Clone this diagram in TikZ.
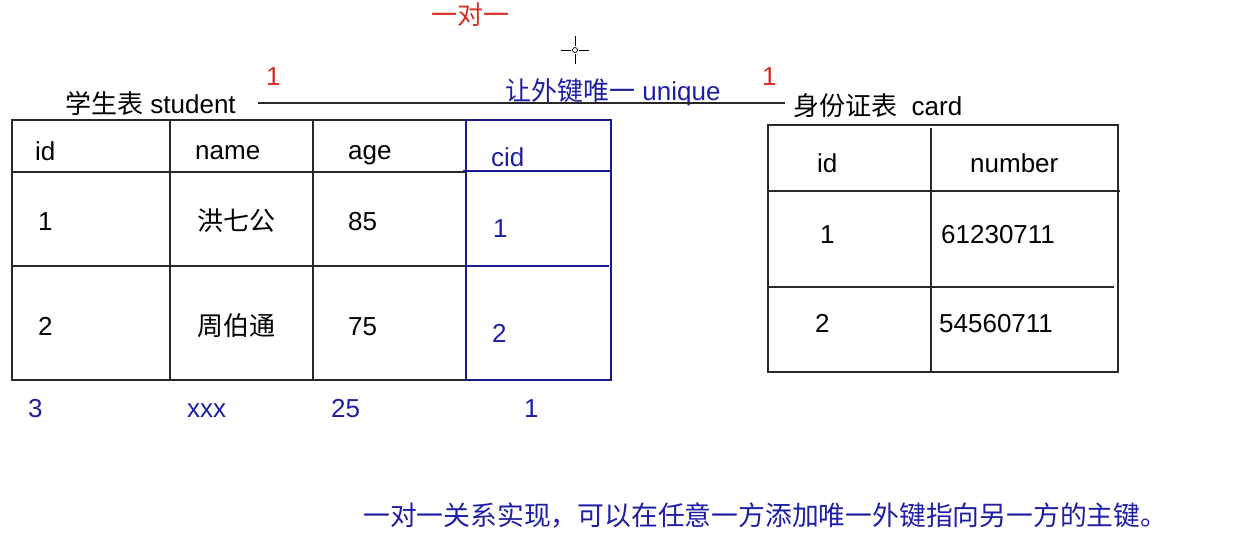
\documentclass[tikz,border=0pt]{standalone}
\usepackage{fontspec}
\setmainfont{Liberation Sans}
\newfontfamily\cjk{Noto Sans CJK SC}
\definecolor{fkblue}{RGB}{30,30,165}
\definecolor{relred}{RGB}{215,45,35}
\definecolor{linegray}{RGB}{40,40,40}
\begin{document}
\begin{tikzpicture}[x=1pt,y=-1pt,
  txt/.style={inner sep=0pt,anchor=base west,font=\fontsize{26}{30}\selectfont},
  btxt/.style={txt,text=fkblue},
  rtxt/.style={txt,text=relred},
  grid/.style={draw=linegray,line width=1.3pt},
  bgrid/.style={draw=fkblue!85!black,line width=1.2pt}]
\useasboundingbox (0,0) rectangle (1242,536);
% ---- relation header ----
\node[rtxt,anchor=center] (oto) at (470,15) {\cjk 一对一};
\node[txt] (stitle) at (65,113) {{\cjk 学生表} student};
\node[txt] (ctitle) at (793,115) {{\cjk 身份证表}\ \ card};
\node[rtxt] (r1) at (266,85) {1};
\node[rtxt] (r2) at (762,85) {1};
\node[btxt] (uq) at (505,100) {{\cjk 让外键唯一} unique};
\coordinate (l1) at (258,103);
\coordinate (l2) at (785,103);
\draw[linegray,line width=1.3pt] (l1) -- (l2);
% cursor
\draw[black,line width=0.9pt] (561,50) -- (571,50) (579,50) -- (589,50) (575,36) -- (575,46) (575,54) -- (575,64);
\draw[black,line width=0.7pt] (575,50) circle (2.5);
% ---- student table ----
\draw[grid] (466,120) -- (12,120) -- (12,380) -- (466,380);
\draw[grid] (12,172) -- (466,172) (12,266) -- (466,266);
\draw[grid] (170,120) -- (170,380) (313,120) -- (313,380);
\draw[bgrid] (466,120) -- (611,120) -- (611,380) -- (466,380) -- cycle;
\draw[bgrid] (463,171) -- (612,171) (466,266) -- (609,266);
\node[txt] (h1) at (35,160) {id};
\node[txt] (h2) at (195,159) {name};
\node[txt] (h3) at (348,159) {age};
\node[btxt] (h4) at (491,166) {cid};
\node[txt] (a1) at (38,230) {1};
\node[txt] (a2) at (197,230) {\cjk 洪七公};
\node[txt] (a3) at (348,230) {85};
\node[btxt] (a4) at (493,237) {1};
\node[txt] (b1) at (38,335) {2};
\node[txt] (b2) at (197,335) {\cjk 周伯通};
\node[txt] (b3) at (348,335) {75};
\node[btxt] (b4) at (492,342) {2};
\node[btxt] (c1) at (28,417) {3};
\node[btxt] (c2) at (187,417) {xxx};
\node[btxt] (c3) at (331,417) {25};
\node[btxt] (c4) at (524,417) {1};
% ---- card table ----
\draw[grid] (768,125) rectangle (1118,372);
\draw[grid] (767,191) -- (1120,191) (768,287) -- (1114,287);
\draw[grid] (931,128) -- (931,372);
\node[txt] (k1) at (817,172) {id};
\node[txt] (k2) at (970,172) {number};
\node[txt] (m1) at (820,243) {1};
\node[txt] (m2) at (941,243) {61230711};
\node[txt] (n1) at (815,332) {2};
\node[txt] (n2) at (939,332) {54560711};
% ---- note ----
\node[btxt,anchor=west,font=\fontsize{26.8}{30}\selectfont] (note) at (363,516) {\cjk 一对一关系实现，可以在任意一方添加唯一外键指向另一方的主键。};
\end{tikzpicture}
\end{document}
